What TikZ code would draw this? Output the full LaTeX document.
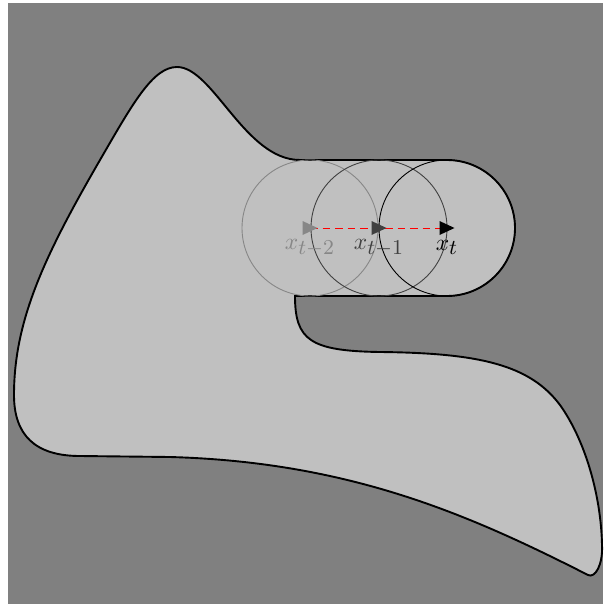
\documentclass[tikz,border=0pt]{standalone}
\DeclareMathSizes{10}{10}{9}{7}
\definecolor{bgcol}{HTML}{808080}
\definecolor{shapefill}{HTML}{C0C0C0}
\definecolor{pastcol}{HTML}{878787}
\definecolor{prevcol}{HTML}{404040}
\begin{document}
\begin{tikzpicture}[x=1pt,y=-1pt,
  outline/.style={line width=1.9pt, fill=shapefill, draw=black},
  ring/.style={line width=0.9pt},
  lab/.style={anchor=base, inner sep=0pt, scale=2.35},
  track/.style={red, line width=0.8pt, dash pattern=on 7.5pt off 5pt}]
\useasboundingbox (0,0) rectangle (603,604);
\fill[bgcol] (8,3) rectangle (603,604);
% region
\draw[outline] (295,296) .. controls (295,340) and (310,351) .. (380,352)
 .. controls (480,353) and (530,365) .. (560,405)
 .. controls (585,440) and (601,495) .. (602,545)
 .. controls (603,565) and (595,578.5) .. (588,575)
 .. controls (470,515) and (350,462) .. (170,457)
 -- (80,456)
 .. controls (35,456) and (14,435) .. (14,395)
 .. controls (14,320) and (45,255) .. (100,160)
 .. controls (133,103) and (153,67) .. (177,67)
 .. controls (213,67) and (245,160) .. (300,160)
 -- (447,160)
 .. controls (484.55,160) and (515,190.45) .. (515,228)
 .. controls (515,265.55) and (484.55,296) .. (447,296)
 -- cycle;
% positions
\coordinate (c2) at (310,228);
\coordinate (c1) at (379,228);
\coordinate (c0) at (447,228);
\draw[ring, draw=pastcol] (c2) circle[radius=68pt];
\draw[ring, draw=prevcol] (c1) circle[radius=68pt];
\draw[ring, draw=black] (c0) circle[radius=68pt];
\draw[track] (c2) -- (c0);
\fill[pastcol] (c2) ++(-7.5,-7) -- ++(15,7) -- ++(-15,7) -- cycle;
\fill[prevcol] (c1) ++(-7.5,-7) -- ++(15,7) -- ++(-15,7) -- cycle;
\fill[black] (c0) ++(-7.5,-7) -- ++(15,7) -- ++(-15,7) -- cycle;
\path (c2) ++(0,21) node[lab, text=pastcol] (l2) {$x_{t-2}$};
\path (c1) ++(0,21) node[lab, text=prevcol] (l1) {$x_{t-1}$};
\path (c0) ++(0,22) node[lab, text=black] (l0) {$x_{t}$};
\end{tikzpicture}
\end{document}
